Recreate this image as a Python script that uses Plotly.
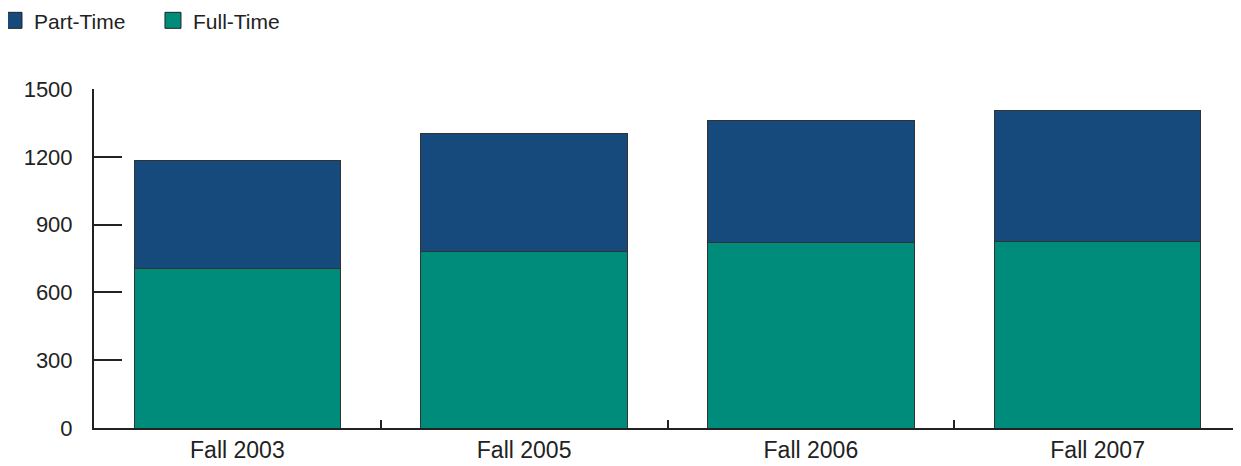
import plotly.graph_objects as go

terms = ["Fall 2003", "Fall 2005", "Fall 2006", "Fall 2007"]
full_time = [705, 782, 823, 826]
part_time = [478, 521, 539, 580]

part_color = "#174A7C"
full_color = "#008C7A"

fig = go.Figure()
fig.add_trace(go.Bar(x=terms, y=full_time, name="Full-Time", showlegend=False,
                     marker=dict(color=full_color, line=dict(color="#333333", width=1))))
fig.add_trace(go.Bar(x=terms, y=part_time, name="Part-Time", showlegend=False,
                     marker=dict(color=part_color, line=dict(color="#333333", width=1))))

# legend entries with bigger square swatches
for name, color in [("Part-Time", part_color), ("Full-Time", full_color)]:
    fig.add_trace(go.Scatter(x=[None], y=[None], mode="markers", name=name,
                             marker=dict(symbol="square", size=17, color=color,
                                         line=dict(color="#222222", width=1))))

# page body has an 8px margin, so the figure is sized to fit the remaining window
fig.update_layout(
    width=1233, height=458,
    barmode="stack", bargap=0.28,
    plot_bgcolor="white", paper_bgcolor="white",
    margin=dict(l=86, r=0, t=81, b=38, autoexpand=False),
    font=dict(family="Liberation Sans, Arial, sans-serif", size=22, color="#222222"),
    legend=dict(orientation="h", x=-0.0872, y=1.262, xanchor="left", yanchor="top",
                traceorder="normal", font=dict(size=21), itemwidth=30,
                entrywidth=114),
    showlegend=True,
)
fig.update_xaxes(range=[-0.5, 3.5], showline=True, linecolor="#222222", linewidth=2,
                 ticks="inside", tickson="boundaries", ticklen=8, tickwidth=2,
                 tickcolor="#222222", showgrid=False, zeroline=False,
                 tickfont=dict(size=23))
fig.update_yaxes(range=[0, 1500], tickvals=[0, 300, 600, 900, 1200, 1500],
                 showline=True, linecolor="#222222", linewidth=2,
                 ticks="inside", ticklen=28, tickwidth=2, tickcolor="#222222",
                 showgrid=False, zeroline=False, ticklabelstandoff=15)

fig.write_html("out.html")
